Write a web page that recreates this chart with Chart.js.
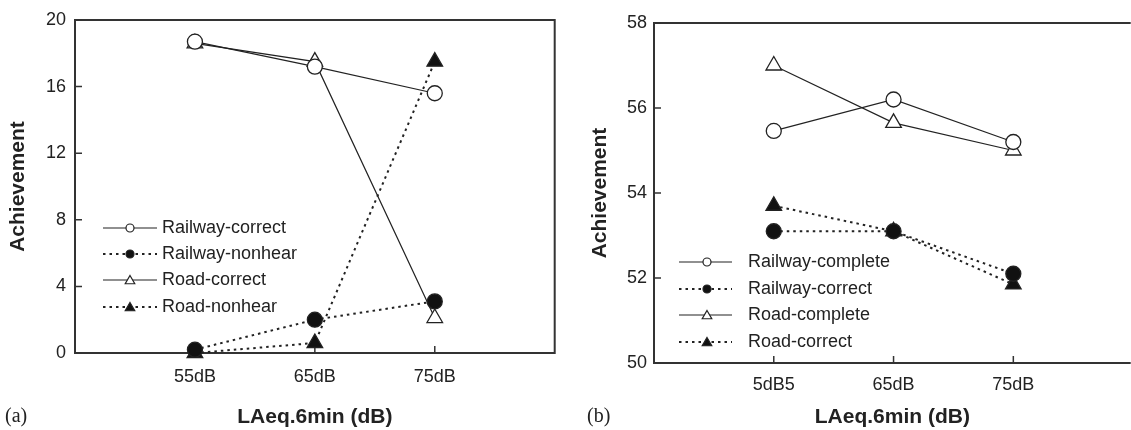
<!DOCTYPE html>
<html>
<head>
<meta charset="utf-8">
<script src="https://cdn.jsdelivr.net/npm/chart.js@4.4.0/dist/chart.umd.min.js"></script>
<style>
  html, body { margin: 0; padding: 0; background: #fff; overflow: hidden; }
  #wrap { position: relative; width: 1131px; height: 430px; overflow: hidden; }
  canvas { position: absolute; top: 0; }
  #chartA { left: 0; }
  #chartB { left: 570px; }
  .tag { position: absolute; top: 404px; font: 20px "Liberation Serif", "Times New Roman", serif; color: #222; }
</style>
</head>
<body>
<div id="wrap">
  <canvas id="chartA" width="565" height="430"></canvas>
  <canvas id="chartB" width="571" height="430"></canvas>
  <div class="tag" style="left:5px">(a)</div>
  <div class="tag" style="left:587px">(b)</div>
</div>
<script>
// Panel (a)
const xLabelsA = ['55dB', '65dB', '75dB'];
const yTicksA = [0, 4, 8, 12, 16, 20];
const railwayCorrectA = [18.7, 17.2, 15.6];
const railwayNonhearA = [0.2, 2.0, 3.1];
const roadCorrectA = [18.6, 17.5, 2.1];
const roadNonhearA = [0.0, 0.6, 17.5];

// Panel (b)
const xLabelsB = ['5dB5', '65dB', '75dB'];
const yTicksB = [50, 52, 54, 56, 58];
const railwayCompleteB = [55.46, 56.2, 55.2];
const railwayCorrectB = [53.1, 53.1, 52.1];
const roadCompleteB = [57.0, 55.65, 55.0];
const roadCorrectB = [53.7, 53.1, 51.85];

Chart.defaults.font.family = '"Liberation Sans", Arial, sans-serif';
Chart.defaults.color = '#222';

const INK = '#222';

// category index -> x position 1, 2, 3
function toPoints(values) {
  return values.map((v, i) => ({ x: i + 1, y: v }));
}

function series(label, values, dotted, marker) {
  const filled = dotted;
  return {
    label,
    data: toPoints(values),
    borderColor: INK,
    borderWidth: dotted ? 2 : 1.2,
    borderDash: dotted ? [2.5, 4] : [],
    tension: 0,
    pointStyle: marker,
    pointRadius: marker === 'triangle' ? 9 : 7.5,
    pointBorderWidth: 1.3,
    pointBorderColor: INK,
    pointBackgroundColor: filled ? '#111' : '#fff',
    legendRadius: marker === 'triangle' ? 5.5 : 4,
    clip: false,
  };
}

function drawMarker(ctx, style, r, x, y) {
  ctx.beginPath();
  if (style === 'triangle') {
    let a = 0;
    ctx.moveTo(x + Math.sin(a) * r, y - Math.cos(a) * r);
    a += 2 * Math.PI / 3;
    ctx.lineTo(x + Math.sin(a) * r, y - Math.cos(a) * r);
    a += 2 * Math.PI / 3;
    ctx.lineTo(x + Math.sin(a) * r, y - Math.cos(a) * r);
    ctx.closePath();
  } else {
    ctx.arc(x, y, r, 0, Math.PI * 2);
  }
  ctx.fill();
  ctx.stroke();
}

// Axes frame with inward ticks
const framePlugin = {
  id: 'frame',
  beforeDatasetsDraw(chart, args, opts) {
    const { ctx, chartArea: a } = chart;
    const xs = chart.scales.x;
    const ys = chart.scales.y;
    ctx.save();
    ctx.strokeStyle = '#333';
    ctx.lineWidth = 2;
    ctx.setLineDash([]);
    ctx.beginPath();
    ctx.moveTo(a.left, a.top);
    ctx.lineTo(a.right, a.top);
    ctx.moveTo(a.left, a.top - 1);
    ctx.lineTo(a.left, a.bottom);
    ctx.lineTo(a.right, a.bottom);
    if (opts.box) {
      ctx.moveTo(a.right, a.top - 1);
      ctx.lineTo(a.right, a.bottom + 1);
    }
    ctx.stroke();
    ctx.lineWidth = 1.5;
    ctx.beginPath();
    xs.ticks.forEach((t) => {
      const px = xs.getPixelForValue(t.value);
      ctx.moveTo(px, a.bottom);
      ctx.lineTo(px, a.bottom - 7);
    });
    ys.ticks.forEach((t) => {
      const py = ys.getPixelForValue(t.value);
      ctx.moveTo(a.left, py);
      ctx.lineTo(a.left + 7, py);
    });
    ctx.stroke();
    ctx.restore();
  },
};

// Legend drawn inside the plot: line sample, marker, label
const lineLegend = {
  id: 'lineLegend',
  afterDraw(chart, args, opts) {
    const { ctx } = chart;
    ctx.save();
    chart.data.datasets.forEach((ds, i) => {
      const y = opts.rows[i];
      ctx.strokeStyle = INK;
      ctx.lineWidth = ds.borderWidth;
      ctx.setLineDash(ds.borderDash);
      ctx.beginPath();
      ctx.moveTo(opts.x1, y);
      ctx.lineTo(opts.x2, y);
      ctx.stroke();
      ctx.setLineDash([]);
      ctx.lineWidth = 1.2;
      ctx.fillStyle = ds.pointBackgroundColor;
      drawMarker(ctx, ds.pointStyle, ds.legendRadius, opts.mx, y + (ds.pointStyle === 'triangle' ? 1 : 0));
      ctx.fillStyle = INK;
      ctx.font = '18px "Liberation Sans", Arial, sans-serif';
      ctx.textBaseline = 'middle';
      ctx.textAlign = 'left';
      ctx.fillText(ds.label, opts.tx, y);
    });
    ctx.restore();
  },
};

function makeChart(id, cfg) {
  return new Chart(document.getElementById(id), {
    type: 'line',
    data: { datasets: cfg.datasets },
    plugins: [framePlugin, lineLegend],
    options: {
      responsive: false,
      devicePixelRatio: 1,
      animation: false,
      layout: { padding: { top: cfg.top, right: cfg.right, left: 0, bottom: 0 } },
      scales: {
        x: {
          type: 'linear',
          min: 0,
          max: cfg.xMax,
          afterBuildTicks: (s) => { s.ticks = cfg.xLabels.map((_, i) => ({ value: i + 1 })); },
          afterFit: (s) => { s.height = cfg.xHeight; },
          grid: { display: false, drawTicks: false },
          border: { display: false },
          ticks: {
            callback: (v) => cfg.xLabels[v - 1],
            font: { size: 18 },
            color: INK,
            padding: cfg.xPad,
            maxRotation: 0,
            autoSkip: false,
          },
          title: {
            display: true,
            text: 'LAeq.6min (dB)',
            font: { size: 21, weight: 'bold' },
            color: INK,
            padding: { top: 0, bottom: 0 },
          },
        },
        y: {
          min: cfg.yTicks[0],
          max: cfg.yTicks[cfg.yTicks.length - 1],
          afterBuildTicks: (s) => { s.ticks = cfg.yTicks.map((v) => ({ value: v })); },
          afterFit: (s) => { s.width = cfg.yWidth; },
          grid: { display: false, drawTicks: false },
          border: { display: false },
          ticks: { font: { size: 18 }, color: INK, padding: cfg.yPad },
          title: {
            display: true,
            text: 'Achievement',
            font: { size: 21, weight: 'bold' },
            color: INK,
            padding: { top: cfg.yTitlePad, bottom: 0 },
          },
        },
      },
      plugins: {
        legend: { display: false },
        tooltip: { enabled: false },
        frame: { box: cfg.box },
        lineLegend: cfg.legend,
      },
    },
  });
}

makeChart('chartA', {
  datasets: [
    series('Railway-correct', railwayCorrectA, false, 'circle'),
    series('Railway-nonhear', railwayNonhearA, true, 'circle'),
    series('Road-correct', roadCorrectA, false, 'triangle'),
    series('Road-nonhear', roadNonhearA, true, 'triangle'),
  ],
  xLabels: xLabelsA,
  yTicks: yTicksA,
  xMax: 4,
  top: 20,
  right: 10,
  xHeight: 77,
  yWidth: 75,
  xPad: 13,
  yPad: 9,
  yTitlePad: 6,
  box: true,
  legend: { x1: 103, x2: 157, mx: 130, tx: 162, rows: [228, 254, 280, 307] },
});

makeChart('chartB', {
  datasets: [
    series('Railway-complete', railwayCompleteB, false, 'circle'),
    series('Railway-correct', railwayCorrectB, true, 'circle'),
    series('Road-complete', roadCompleteB, false, 'triangle'),
    series('Road-correct', roadCorrectB, true, 'triangle'),
  ],
  xLabels: xLabelsB,
  yTicks: yTicksB,
  xMax: 3.98,
  top: 23,
  right: 0,
  xHeight: 67,
  yWidth: 84,
  xPad: 11,
  yPad: 7,
  yTitlePad: 18,
  box: false,
  legend: { x1: 109, x2: 162, mx: 137, tx: 178, rows: [262, 289, 315, 342] },
});
</script>
</body>
</html>
